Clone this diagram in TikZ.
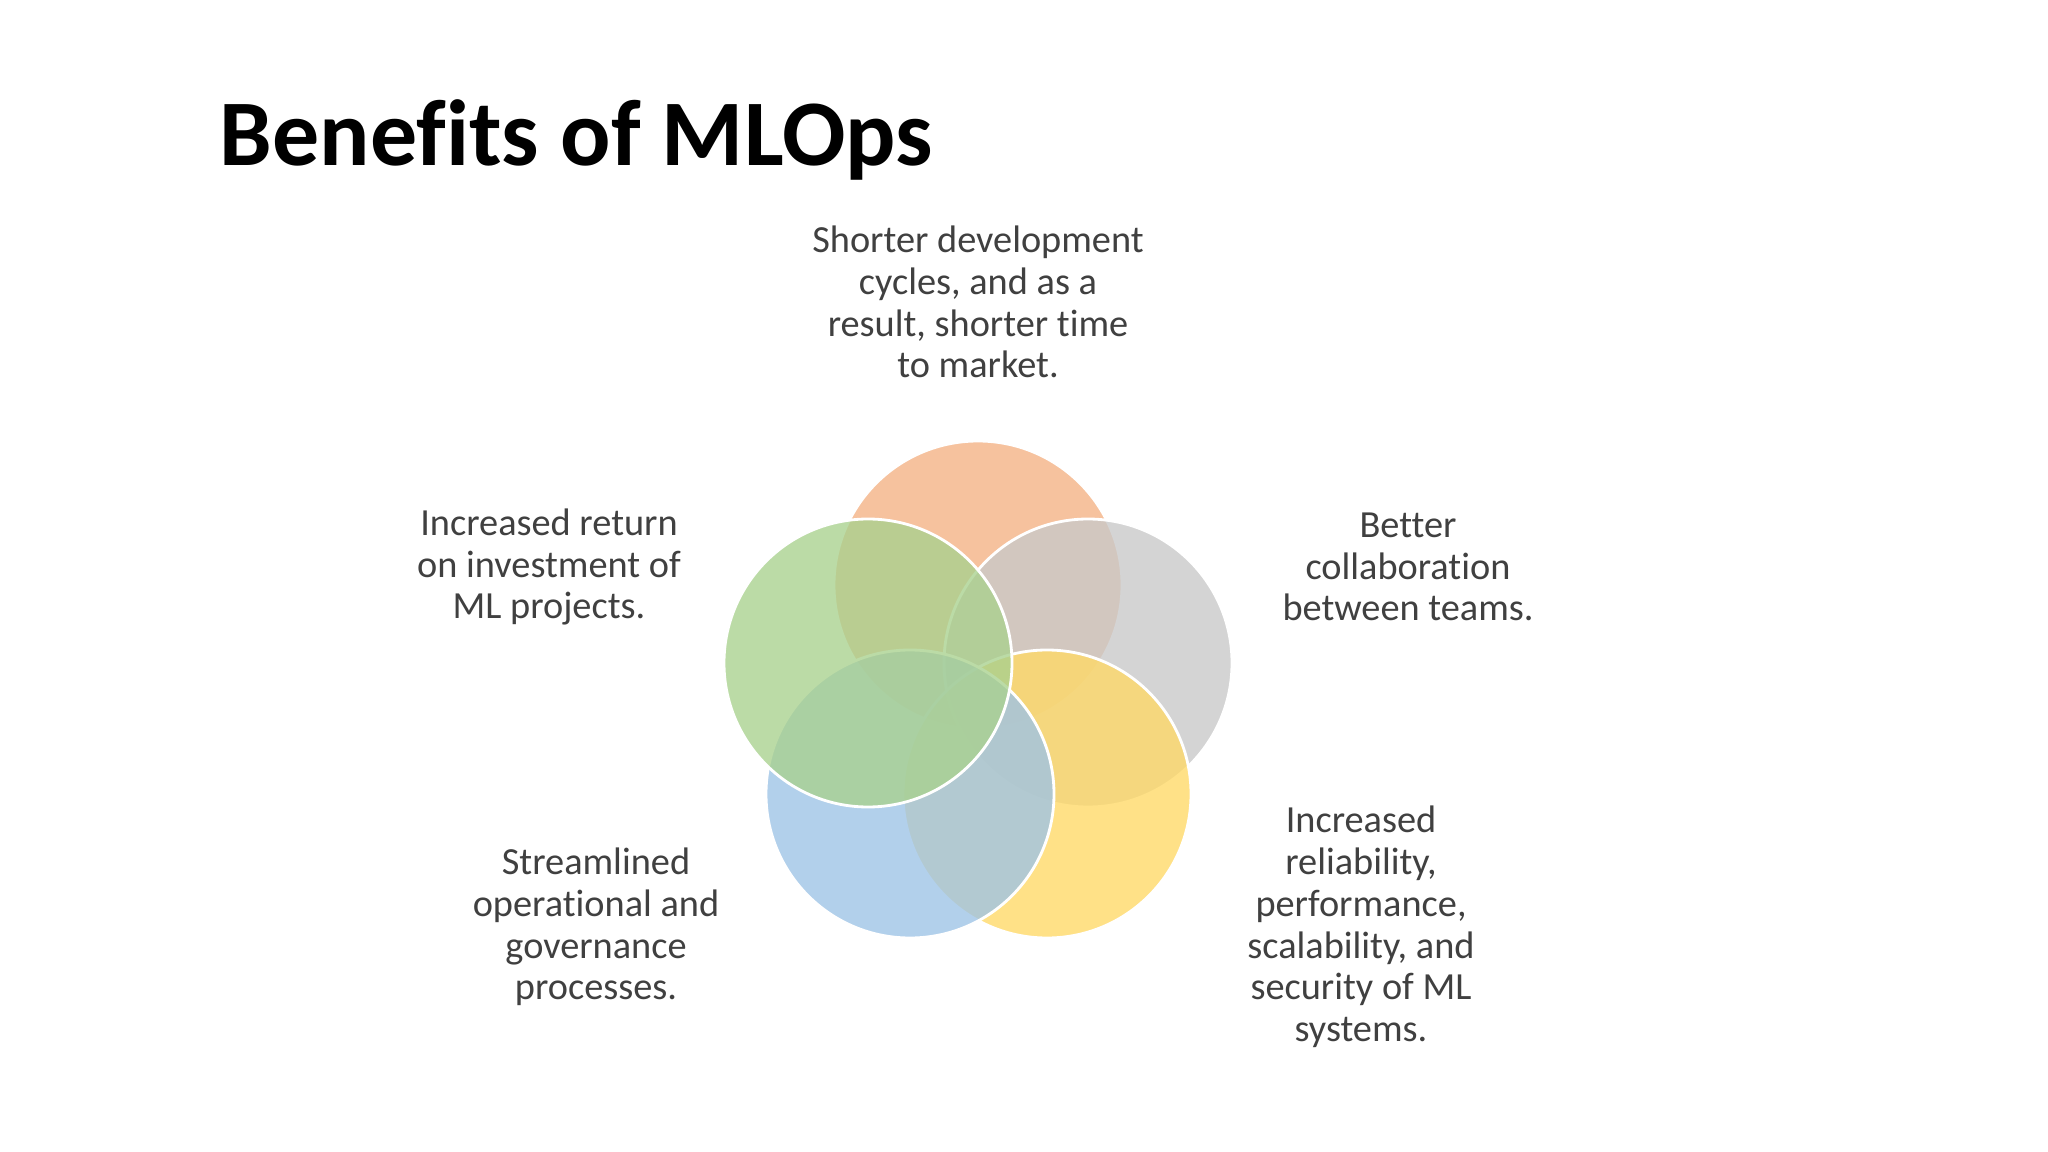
\documentclass[tikz,border=0pt]{standalone}
\usepackage{fontspec}
\setmainfont{Carlito}[Ligatures={NoCommon}]
\begin{document}
\begin{tikzpicture}[x=0.01cm,y=-0.01cm,
  c/.style={fill opacity=0.78,draw=white,line width=0.8pt},
  lbl/.style={align=center,text=black!75,font=\fontsize{10.9}{11.9}\selectfont}]
\useasboundingbox[fill=white] (0,0) rectangle (2048,1152);
\node[anchor=base west,inner sep=0pt,font=\fontsize{26.7}{32}\bfseries\selectfont] (title) at (219,166) {Benefits of MLOps};
\fill[c,fill={rgb,255:red,244;green,177;blue,131}] (978,585) circle (144);
\fill[c,fill={rgb,255:red,201;green,201;blue,201}] (1088,663) circle (144);
\fill[c,fill={rgb,255:red,255;green,217;blue,102}] (1047,794) circle (144);
\fill[c,fill={rgb,255:red,157;green,195;blue,230}] (910,794) circle (144);
\fill[c,fill={rgb,255:red,169;green,209;blue,142}] (868,663) circle (144);
\node[lbl] (t1) at (978,302) {Shorter development\\cycles, and as a\\result, shorter time\\to market.};
\node[lbl] (t2) at (1408,567) {Better\\collaboration\\between teams.};
\node[lbl] (t3) at (1361,927) {Increased\\reliability,\\performance,\\scalability, and\\security of ML\\systems.};
\node[lbl] (t4) at (596,927) {Streamlined\\operational and\\governance\\processes.};
\node[lbl] (t5) at (549,567) {Increased return\\on investment of\\ML projects.};
\end{tikzpicture}
\end{document}
